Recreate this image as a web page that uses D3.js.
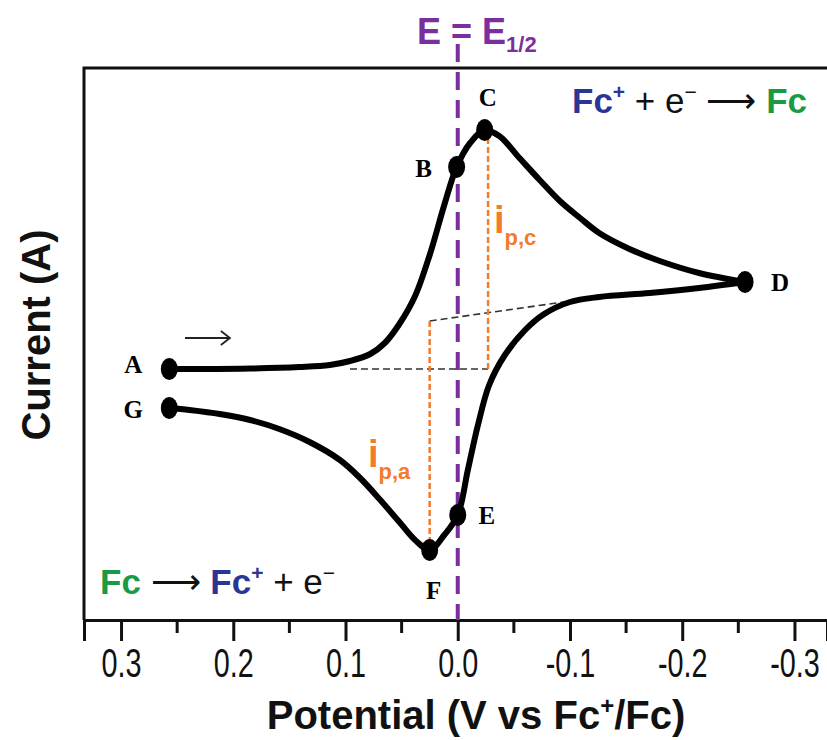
<!DOCTYPE html>
<html>
<head>
<meta charset="utf-8">
<script src="https://cdn.jsdelivr.net/npm/d3@7"></script>
<style>
  body { margin: 0; background: #fff; }
  svg { display: block; font-family: "Liberation Sans", Arial, sans-serif; }
</style>
</head>
<body>
<svg width="827" height="740"></svg>
<script>
// cyclic voltammogram of ferrocene (current in arb. units)
var fwdPotential = [0.257, 0.230, 0.185, 0.141, 0.114, 0.096, 0.078, 0.065, 0.052, 0.038, 0.025, 0.012, 0.001, -0.011, -0.024, -0.037, -0.055, -0.073, -0.091, -0.109, -0.126, -0.153, -0.180, -0.215, -0.256];
var fwdCurrent   = [0.00, 0.00, 0.005, 0.02, 0.04, 0.08, 0.15, 0.26, 0.45, 0.73, 1.14, 1.64, 2.02, 2.26, 2.39, 2.33, 2.11, 1.89, 1.68, 1.51, 1.36, 1.20, 1.08, 0.96, 0.87];
var revPotential = [-0.256, -0.215, -0.171, -0.126, -0.100, -0.077, -0.060, -0.042, -0.028, -0.018, -0.009, 0.000, 0.012, 0.025, 0.038, 0.052, 0.069, 0.087, 0.105, 0.132, 0.159, 0.185, 0.212, 0.239, 0.257];
var revCurrent   = [0.87, 0.81, 0.76, 0.72, 0.67, 0.55, 0.39, 0.14, -0.16, -0.56, -1.01, -1.46, -1.66, -1.81, -1.71, -1.53, -1.31, -1.09, -0.91, -0.73, -0.60, -0.51, -0.45, -0.41, -0.39];

var pointNames     = ["A", "B", "C", "D", "E", "F", "G"];
var pointPotential = [0.257, 0.001, -0.024, -0.256, 0.000, 0.025, 0.257];
var pointCurrent   = [0.00, 2.02, 2.39, 0.87, -1.46, -1.81, -0.39];

var majorTicks = [0.3, 0.2, 0.1, 0.0, -0.1, -0.2, -0.3];
var minorTicks = [0.25, 0.15, 0.05, -0.05, -0.15, -0.25];

// peak-current construction lines
var ipcPotential = -0.027, ipcFrom = 0.0, ipcTo = 2.39;
var ipaPotential = 0.025,  ipaFrom = 0.48, ipaTo = -1.81;
var fwdBaseline = [[0.096, 0.0], [-0.027, 0.0]];
var revBaseline = [[0.025, 0.48], [-0.126, 0.72]];
// scan direction arrow, drawn just above the start of the sweep
var scanArrow = [[0.243, 0.31], [0.203, 0.31]];

var svg = d3.select("svg"),
    width = +svg.attr("width"),
    height = +svg.attr("height");

// note: "top" is taken by window.top, so plot edges get their own names
var plotLeft = 84, plotTop = 68, plotBottom = 620;

var x = d3.scaleLinear().domain([0.333, -0.329]).range([plotLeft, width]);
var y = d3.scaleLinear().domain([-2.51, 3.01]).range([plotBottom, plotTop]);

var blue = "#2b3596", green = "#1a9a45", purple = "#7a2ea0", orange = "#f47a2c";
var serif = "Liberation Serif, Times New Roman, serif";

// frame (left + top), bottom is the axis
svg.append("path")
    .attr("d", "M" + plotLeft + "," + plotBottom + "V" + plotTop + "H" + (width + 5))
    .attr("fill", "none")
    .attr("stroke", "#111")
    .attr("stroke-width", 3);

// x axis
var xAxis = svg.append("g")
    .attr("transform", "translate(0," + plotBottom + ")")
    .call(d3.axisBottom(x).tickValues(majorTicks).tickSize(21).tickPadding(8)
        .tickFormat(d3.format(".1f")));
xAxis.select(".domain").attr("stroke", "#111").attr("stroke-width", 3);
xAxis.selectAll(".tick line").attr("stroke", "#111").attr("stroke-width", 3);
xAxis.selectAll(".tick text")
    .attr("font-size", 40)
    .style("font-family", "Liberation Sans, Arial, sans-serif")
    .attr("fill", "#111")
    .attr("transform", "scale(0.72,1)")
    .text(function (d) { return d3.format(".1f")(d).replace("\u2212", "-"); });

svg.append("g")
    .selectAll("line")
    .data(minorTicks)
    .enter().append("line")
    .attr("x1", d => x(d)).attr("x2", d => x(d))
    .attr("y1", plotBottom).attr("y2", plotBottom + 13)
    .attr("stroke", "#111")
    .attr("stroke-width", 3);

// axis titles
svg.append("text")
    .attr("x", 476).attr("y", 729)
    .attr("text-anchor", "middle")
    .attr("font-size", 40).attr("font-weight", "bold").attr("fill", "#111")
    .call(function (t) {
        t.append("tspan").text("Potential (V vs Fc");
        t.append("tspan").attr("font-size", 24).attr("dy", -15).text("+");
        t.append("tspan").attr("dy", 15).text("/Fc)");
    });

svg.append("text")
    .attr("transform", "translate(50,335) rotate(-90)")
    .attr("text-anchor", "middle")
    .attr("font-size", 40).attr("font-weight", "bold").attr("fill", "#111")
    .text("Current (A)");

// E = E1/2 line
svg.append("line")
    .attr("x1", x(0)).attr("x2", x(0))
    .attr("y1", 44).attr("y2", plotBottom)
    .attr("stroke", purple)
    .attr("stroke-width", 4)
    .attr("stroke-dasharray", "18,10");

svg.append("text")
    .attr("x", 417).attr("y", 44)
    .attr("font-size", 36).attr("font-weight", "bold").attr("fill", purple)
    .call(function (t) {
        t.append("tspan").text("E = E");
        t.append("tspan").attr("font-size", 22).attr("dy", 8).text("1/2");
    });

// baselines (black dashed)
var line = d3.line().x(d => x(d[0])).y(d => y(d[1]));
svg.append("g")
    .selectAll("path")
    .data([fwdBaseline, revBaseline])
    .enter().append("path")
    .attr("d", line)
    .attr("fill", "none")
    .attr("stroke", "#333")
    .attr("stroke-width", 1.6)
    .attr("stroke-dasharray", "7,4");

// peak currents (orange dashed)
svg.append("g")
    .selectAll("line")
    .data([[ipcPotential, ipcFrom, ipcTo], [ipaPotential, ipaFrom, ipaTo]])
    .enter().append("line")
    .attr("x1", d => x(d[0])).attr("x2", d => x(d[0]))
    .attr("y1", d => y(d[1])).attr("y2", d => y(d[2]))
    .attr("stroke", orange)
    .attr("stroke-width", 2.5)
    .attr("stroke-dasharray", "6,3");

function peakLabel(px, py, sub) {
    var t = svg.append("text")
        .attr("x", px).attr("y", py)
        .attr("font-weight", "bold").attr("fill", orange);
    t.append("tspan").attr("font-size", 38).text("i");
    t.append("tspan").attr("font-size", 22).attr("dy", 12).text(sub);
}
peakLabel(494, 233, "p,c");
peakLabel(368, 467, "p,a");

// the voltammogram
var curve = d3.line()
    .x(d => x(d[0]))
    .y(d => y(d[1]))
    .curve(d3.curveCatmullRom.alpha(0.5));

var fwd = fwdPotential.map((p, i) => [p, fwdCurrent[i]]);
var rev = revPotential.map((p, i) => [p, revCurrent[i]]);

svg.append("g")
    .selectAll("path")
    .data([fwd, rev])
    .enter().append("path")
    .attr("d", curve)
    .attr("fill", "none")
    .attr("stroke", "#000")
    .attr("stroke-width", 6)
    .attr("stroke-linejoin", "round");

// labelled points
var labelOffset = { A: [-36, 4], B: [-33, 10], C: [3, -24], D: [35, 9], E: [29, 9], F: [4, 49], G: [-36, 10] };

var pts = svg.append("g")
    .selectAll("g")
    .data(pointNames)
    .enter().append("g")
    .attr("transform", (d, i) => "translate(" + x(pointPotential[i]) + "," + y(pointCurrent[i]) + ")");

pts.append("ellipse")
    .attr("rx", 8.5).attr("ry", 11)
    .attr("fill", "#000");

pts.append("text")
    .attr("x", d => labelOffset[d][0])
    .attr("y", d => labelOffset[d][1])
    .attr("text-anchor", "middle")
    .style("font-family", serif)
    .attr("font-weight", "bold")
    .attr("font-size", 25)
    .text(d => d);

// scan direction arrow (thin shaft with open head)
var ax0 = x(scanArrow[0][0]), ax1 = x(scanArrow[1][0]), ay = y(scanArrow[0][1]);
svg.append("path")
    .attr("d", "M" + ax0 + "," + ay + "H" + ax1 + "M" + (ax1 - 9) + "," + (ay - 7) + "L" + ax1 + "," + ay + "L" + (ax1 - 9) + "," + (ay + 7))
    .attr("fill", "none")
    .attr("stroke", "#222")
    .attr("stroke-width", 1.8);

// reaction equations
function equation(px, py, parts) {
    var t = svg.append("text").attr("x", px).attr("y", py).attr("font-size", 35);
    parts.forEach(function (p) {
        var s = t.append("tspan").attr("fill", p.c).text(p.t);
        if (p.sup) s.attr("font-size", 21).attr("dy", -14);
        if (p.down) s.attr("dy", 14);
        if (p.bold) s.attr("font-weight", "bold");
    });
}
equation(572, 113, [
    { t: "Fc", c: blue, bold: true },
    { t: "+", c: blue, sup: true, bold: true },
    { t: " + e", c: "#111", down: true },
    { t: "\u2212", c: "#111", sup: true },
    { t: " \u27F6 ", c: "#111", down: true },
    { t: "Fc", c: green, bold: true }
]);
equation(100, 594, [
    { t: "Fc", c: green, bold: true },
    { t: " \u27F6 ", c: "#111" },
    { t: "Fc", c: blue, bold: true },
    { t: "+", c: blue, sup: true, bold: true },
    { t: " + e", c: "#111", down: true },
    { t: "\u2212", c: "#111", sup: true }
]);
</script>
</body>
</html>
